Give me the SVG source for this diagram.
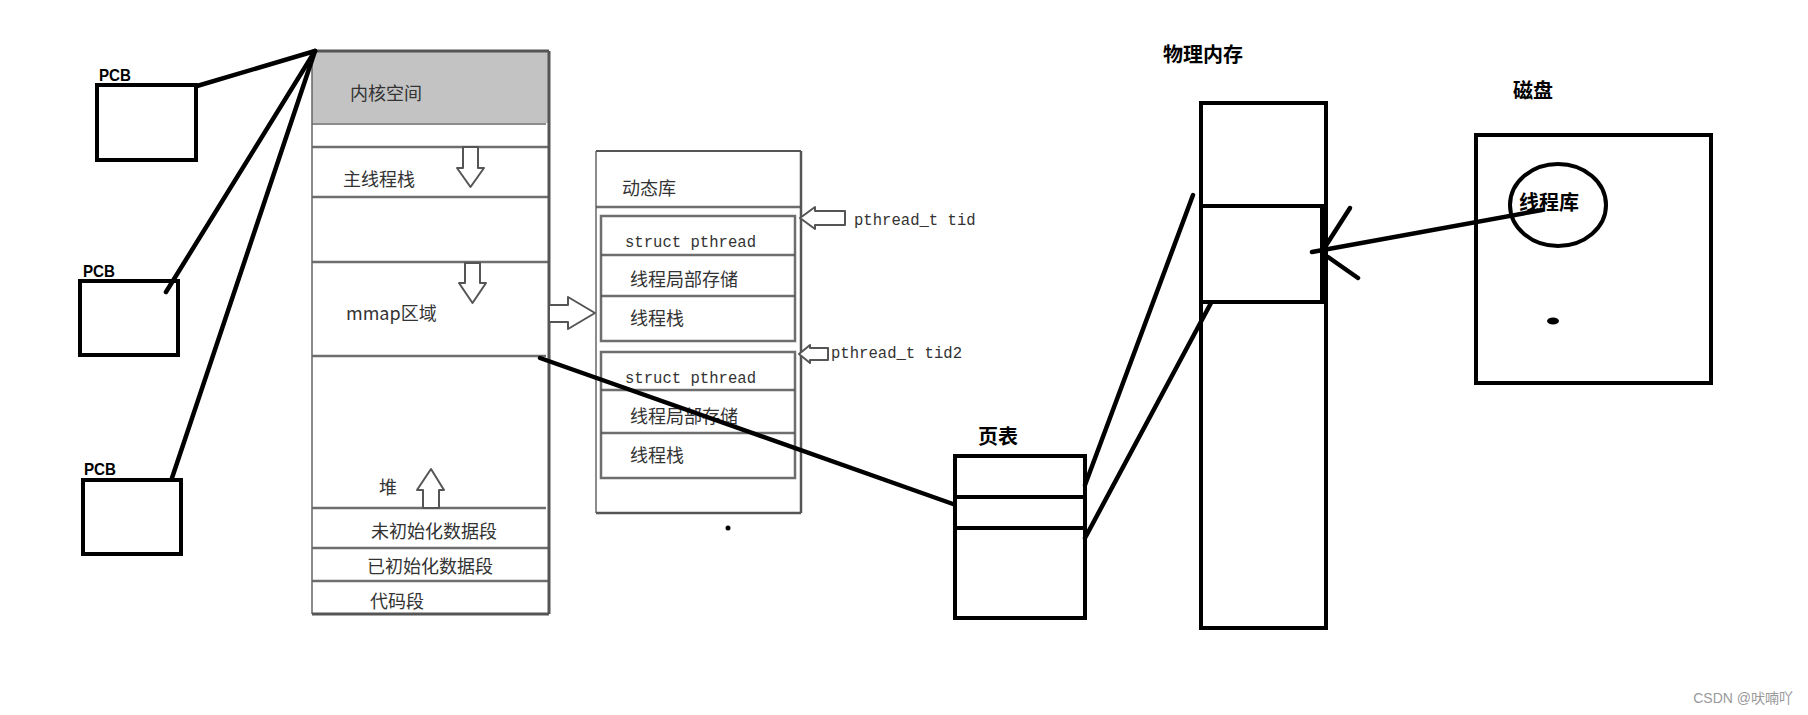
<svg xmlns="http://www.w3.org/2000/svg" width="1808" height="715" viewBox="0 0 1808 715">
<style>
.box{fill:none;stroke:#000;stroke-width:4}
.wire{fill:none;stroke:#000;stroke-width:4.5;stroke-linecap:round}
.lbl{font-family:"Liberation Sans","Noto Sans CJK SC",sans-serif;font-weight:bold;fill:#000}
.cjkb{font-family:"Noto Sans CJK SC",sans-serif;font-weight:bold;font-size:20px;fill:#000}
.mem{font-family:"Noto Sans CJK SC",sans-serif;font-size:18px;fill:#333}
.mono{font-family:"Liberation Mono","DejaVu Sans Mono",monospace;font-size:15.6px;fill:#333}
.sk{fill:none;stroke:#555;stroke-width:2.5;stroke-opacity:0.85}
.skt{fill:none;stroke:#666;stroke-width:1.5}
.hollow{fill:#fff;stroke:#555;stroke-width:2;stroke-linejoin:round}
</style>

<g id="pcb1">
<rect class="box" x="97" y="85" width="99" height="75"/>
<text class="lbl" x="99" y="81" font-size="17" textLength="32" lengthAdjust="spacingAndGlyphs">PCB</text>
</g>
<g id="pcb2">
<rect class="box" x="80" y="281" width="98" height="74"/>
<text class="lbl" x="83" y="277" font-size="17" textLength="32" lengthAdjust="spacingAndGlyphs">PCB</text>
</g>
<g id="pcb3">
<rect class="box" x="83" y="480" width="98" height="74"/>
<text class="lbl" x="84" y="475" font-size="17" textLength="32" lengthAdjust="spacingAndGlyphs">PCB</text>
</g>

<g id="address-space">
<rect x="312" y="51" width="237" height="72" fill="#c3c3c3"/>
<line class="skt" x1="312" y1="124" x2="546" y2="124"/>
<line class="sk" x1="312" y1="147" x2="548" y2="147"/>
<line class="sk" x1="312" y1="197" x2="548" y2="197"/>
<line class="sk" x1="312" y1="262" x2="548" y2="262"/>
<line class="sk" x1="312" y1="356" x2="546" y2="356"/>
<line class="sk" x1="312" y1="508" x2="546" y2="508"/>
<line class="sk" x1="312" y1="548" x2="548" y2="548"/>
<line class="sk" x1="312" y1="581" x2="548" y2="581"/>
<line class="skt" x1="312" y1="51" x2="312" y2="614"/>
<line x1="549" y1="51" x2="549" y2="614" stroke="#555" stroke-width="3"/>
<line x1="312" y1="51" x2="549" y2="51" stroke="#555" stroke-width="3"/>
<line x1="312" y1="614" x2="549" y2="614" stroke="#555" stroke-width="3"/>
<text class="mem" x="350" y="100">内核空间</text>
<text class="mem" x="343" y="186">主线程栈</text>
<text class="mem" x="346" y="320">mmap区域</text>
<text class="mem" x="379" y="494">堆</text>
<text class="mem" x="371" y="538">未初始化数据段</text>
<text class="mem" x="367" y="573">已初始化数据段</text>
<text class="mem" x="370" y="608">代码段</text>
<path class="hollow" d="M463,147 L478,147 L478,168 L484,168 L470.5,187 L457,168 L463,168 Z"/>
<path class="hollow" d="M465,263 L480,263 L480,283 L486,283 L472.5,303 L459,283 L465,283 Z"/>
<path class="hollow" d="M423,508 L439,508 L439,490 L444,490 L431,469 L417,490 L423,490 Z"/>
</g>

<g id="dynamic-library">
<line class="skt" x1="596" y1="151" x2="596" y2="513"/>
<line x1="801" y1="151" x2="801" y2="513" stroke="#555" stroke-width="2.5"/>
<line x1="596" y1="151" x2="801" y2="151" stroke="#555" stroke-width="2"/>
<line x1="596" y1="513" x2="801" y2="513" stroke="#555" stroke-width="2.5"/>
<line class="sk" x1="596" y1="207" x2="801" y2="207"/>
<rect class="sk" x="601" y="216" width="194" height="125"/>
<line class="sk" x1="601" y1="255" x2="795" y2="255"/>
<line class="sk" x1="601" y1="296" x2="795" y2="296"/>
<rect class="sk" x="601" y="352" width="194" height="126"/>
<line class="sk" x1="601" y1="390" x2="795" y2="390"/>
<line class="sk" x1="601" y1="433" x2="795" y2="433"/>
<text class="mem" x="622" y="195">动态库</text>
<text class="mono" x="625" y="247">struct pthread</text>
<text class="mem" x="630" y="286">线程局部存储</text>
<text class="mem" x="630" y="325">线程栈</text>
<text class="mono" x="625" y="383">struct pthread</text>
<text class="mem" x="630" y="423">线程局部存储</text>
<text class="mem" x="630" y="462">线程栈</text>
<path class="hollow" d="M800,218 L815,207 L815,211 L845,211 L845,225 L815,225 L815,229 Z"/>
<text class="mono" x="854" y="225">pthread_t tid</text>
<path class="hollow" d="M799,354 L810,345 L810,348 L828,348 L828,360 L810,360 L810,363 Z"/>
<text class="mono" x="831" y="358">pthread_t tid2</text>
<circle cx="728" cy="528" r="2.5" fill="#000"/>
</g>

<g id="page-table">
<rect class="box" x="955" y="456" width="130" height="162"/>
<line class="box" x1="955" y1="497" x2="1085" y2="497"/>
<line class="box" x1="955" y1="528" x2="1085" y2="528"/>
<text class="cjkb" x="978" y="444">页表</text>
</g>

<g id="physical-memory">
<rect class="box" x="1201" y="103" width="125" height="525"/>
<line class="box" x1="1201" y1="206" x2="1326" y2="206"/>
<line class="box" x1="1201" y1="302" x2="1326" y2="302"/>
<line class="box" x1="1322" y1="206" x2="1322" y2="302"/>
<text class="cjkb" x="1163" y="62">物理内存</text>
</g>

<g id="disk">
<rect class="box" x="1476" y="135" width="235" height="248"/>
<ellipse class="box" cx="1558" cy="205" rx="48" ry="41"/>
<text class="cjkb" x="1519" y="210" font-weight="600">线程库</text>
<ellipse cx="1553" cy="321" rx="6" ry="3.5" fill="#000"/>
<text class="cjkb" x="1513" y="98">磁盘</text>
</g>

<g id="connectors">
<line class="wire" x1="197" y1="86" x2="315" y2="51"/>
<line class="wire" x1="166" y1="292" x2="315" y2="51"/>
<line class="wire" x1="172" y1="478" x2="315" y2="51"/>
<path class="hollow" d="M549,305 L568,305 L568,297 L595,313 L568,329 L568,322 L549,322 Z"/>
<line class="wire" x1="540" y1="358" x2="953" y2="504"/>
<line class="wire" x1="1085" y1="485" x2="1193" y2="195"/>
<line class="wire" x1="1085" y1="538" x2="1211" y2="303"/>
<line class="wire" x1="1542" y1="210" x2="1312" y2="252"/>
<line class="wire" x1="1350" y1="208" x2="1325" y2="247"/>
<line class="wire" x1="1328" y1="257" x2="1358" y2="278"/>
</g>

<g id="watermark">
<text x="1793" y="703" text-anchor="end" font-family="'Liberation Sans','Noto Sans CJK SC',sans-serif" font-size="14" fill="#999">CSDN @吠喃吖</text>
</g>
</svg>
